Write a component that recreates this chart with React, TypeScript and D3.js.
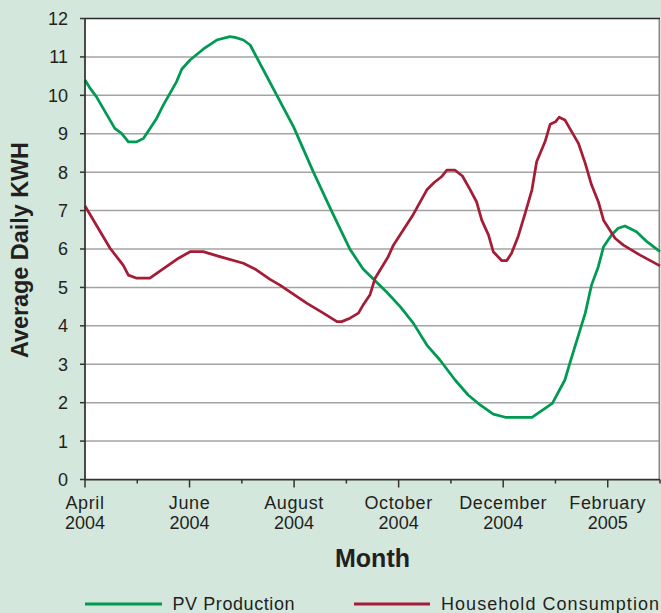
import React from "react";
import * as d3 from "d3";

// Months since April 2004 (0 = April 2004, 11 = March 2005)
const pvMonth = [0, 0.1, 0.22, 0.57, 0.7, 0.83, 0.99, 1.12, 1.37, 1.5, 1.75, 1.85, 2.01, 2.26, 2.52, 2.77, 2.87, 3.03, 3.16, 3.99, 4.37, 4.72, 5.07, 5.32, 5.77, 6.03, 6.28, 6.54, 6.79, 7.08, 7.33, 7.56, 7.81, 8.04, 8.55, 8.94, 9.18, 9.28, 9.57, 9.69, 9.82, 9.92, 10.08, 10.2, 10.33, 10.55, 10.75, 11.0];
const pvKwh = [10.4, 10.18, 9.96, 9.14, 9.01, 8.79, 8.79, 8.88, 9.4, 9.75, 10.35, 10.68, 10.92, 11.2, 11.44, 11.53, 11.51, 11.44, 11.31, 9.18, 8.0, 6.98, 5.99, 5.48, 4.88, 4.5, 4.07, 3.5, 3.11, 2.59, 2.2, 1.94, 1.7, 1.62, 1.62, 1.98, 2.59, 3.05, 4.33, 5.06, 5.54, 6.06, 6.38, 6.54, 6.6, 6.45, 6.19, 5.93];

const hhMonth = [0, 0.48, 0.73, 0.83, 0.99, 1.24, 1.79, 2.01, 2.26, 2.58, 3.03, 3.25, 3.54, 3.73, 4.24, 4.56, 4.82, 4.91, 5.07, 5.23, 5.32, 5.45, 5.55, 5.8, 5.9, 6.28, 6.54, 6.68, 6.82, 6.92, 7.08, 7.22, 7.37, 7.49, 7.59, 7.72, 7.81, 7.97, 8.07, 8.16, 8.29, 8.42, 8.55, 8.64, 8.8, 8.9, 9.0, 9.07, 9.18, 9.44, 9.57, 9.69, 9.82, 9.92, 10.14, 10.3, 10.62, 11.0];
const hhKwh = [7.12, 6.02, 5.58, 5.32, 5.24, 5.24, 5.76, 5.93, 5.93, 5.8, 5.63, 5.48, 5.21, 5.06, 4.59, 4.33, 4.11, 4.11, 4.2, 4.33, 4.54, 4.8, 5.24, 5.8, 6.1, 6.9, 7.54, 7.73, 7.88, 8.05, 8.05, 7.9, 7.54, 7.23, 6.75, 6.36, 5.93, 5.7, 5.7, 5.89, 6.34, 6.93, 7.54, 8.27, 8.79, 9.25, 9.31, 9.43, 9.36, 8.75, 8.23, 7.67, 7.23, 6.75, 6.28, 6.1, 5.84, 5.56];

const monthTicks = [0, 1, 2, 3, 4, 5, 6, 7, 8, 9, 10, 11];
const labelMonths = [0, 2, 4, 6, 8, 10];
const labelLine1 = ["April", "June", "August", "October", "December", "February"];
const labelLine2 = ["2004", "2004", "2004", "2004", "2004", "2005"];
const yTicks = [0, 1, 2, 3, 4, 5, 6, 7, 8, 9, 10, 11, 12];

const seriesNames = ["PV Production", "Household Consumption"];

const W = 661;
const H = 613;
const BG = "#d3e7dc";
const GREEN = "#009a52";
const RED = "#a51c36";
const TEXT = "#231f20";
const FONT = "'Liberation Sans', Arial, Helvetica, sans-serif";

export default function App() {
  const x = d3.scaleLinear().domain([0, 11]).range([85, 660]);
  const y = d3.scaleLinear().domain([0, 12]).range([479.5, 18.5]);
  const line = d3
    .line<[number, number]>()
    .x((d) => x(d[0]))
    .y((d) => y(d[1]));
  const pv: [number, number][] = pvMonth.map((m, i) => [m, pvKwh[i]]);
  const hh: [number, number][] = hhMonth.map((m, i) => [m, hhKwh[i]]);
  const [x0, x1] = x.range();
  const [yb, yt] = y.range();

  return (
    <svg
      width={W}
      height={H}
      style={{ position: "absolute", left: 0, top: 0, display: "block" }}
      fontFamily={FONT}
    >
      <rect x={0} y={0} width={W} height={H} fill={BG} />
      <rect x={x0} y={yt} width={x1 - x0} height={yb - yt} fill="#ffffff" />
      {/* gridlines */}
      {yTicks.slice(1, -1).map((t) => (
        <line key={t} x1={x0} x2={x1} y1={y(t)} y2={y(t)} stroke="#a3a3a3" strokeWidth={1.5} />
      ))}
      {/* right border */}
      <line x1={x1 - 0.75} x2={x1 - 0.75} y1={yt} y2={yb} stroke="#8a8a8a" strokeWidth={1.5} />
      {/* top border */}
      <line x1={x0} x2={x1} y1={yt} y2={yt} stroke="#2b2b2b" strokeWidth={1.5} />
      {/* series */}
      <path d={line(pv) || ""} fill="none" stroke={GREEN} strokeWidth={2.75} strokeLinejoin="round" />
      <path d={line(hh) || ""} fill="none" stroke={RED} strokeWidth={2.75} strokeLinejoin="round" />
      {/* axes */}
      <line x1={x0} x2={x0} y1={yt} y2={yb} stroke="#333" strokeWidth={1.75} />
      <line x1={x0} x2={x1} y1={yb} y2={yb} stroke="#333" strokeWidth={1.75} />
      {yTicks.map((t) => (
        <g key={t}>
          <line x1={x0 - 5} x2={x0} y1={y(t)} y2={y(t)} stroke="#333" strokeWidth={1.5} />
          <text x={68} y={y(t)} dy="0.36em" textAnchor="end" fontSize={18} fill={TEXT}>
            {t}
          </text>
        </g>
      ))}
      {monthTicks.map((m) => (
        <line
          key={m}
          x1={x(m)}
          x2={x(m)}
          y1={yb}
          y2={yb + (m % 2 === 0 ? 8 : 4)}
          stroke="#333"
          strokeWidth={1.5}
        />
      ))}
      {labelMonths.map((m, i) => (
        <text key={m} x={x(m)} textAnchor="middle" fontSize={18} fill={TEXT}>
          <tspan x={x(m)} y={508.5} letterSpacing={0.6}>
            {labelLine1[i]}
          </tspan>
          <tspan x={x(m)} y={528.5}>
            {labelLine2[i]}
          </tspan>
        </text>
      ))}
      {/* axis titles */}
      <text
        x={(x0 + x1) / 2}
        y={566.5}
        textAnchor="middle"
        fontSize={25}
        fontWeight="bold"
        fill={TEXT}
      >
        Month
      </text>
      <text
        transform={`translate(28,250) rotate(-90)`}
        textAnchor="middle"
        fontSize={24}
        fontWeight="bold"
        fill={TEXT}
        textLength={216}
        lengthAdjust="spacingAndGlyphs"
      >
        Average Daily KWH
      </text>
      {/* legend */}
      <line x1={85} x2={162} y1={604} y2={604} stroke={GREEN} strokeWidth={3} />
      <text x={172.5} y={610} fontSize={18} fill={TEXT} textLength={122} lengthAdjust="spacing">
        {seriesNames[0]}
      </text>
      <line x1={354} x2={430} y1={604} y2={604} stroke={RED} strokeWidth={3} />
      <text x={441} y={610} fontSize={18} fill={TEXT} textLength={218} lengthAdjust="spacing">
        {seriesNames[1]}
      </text>
    </svg>
  );
}
